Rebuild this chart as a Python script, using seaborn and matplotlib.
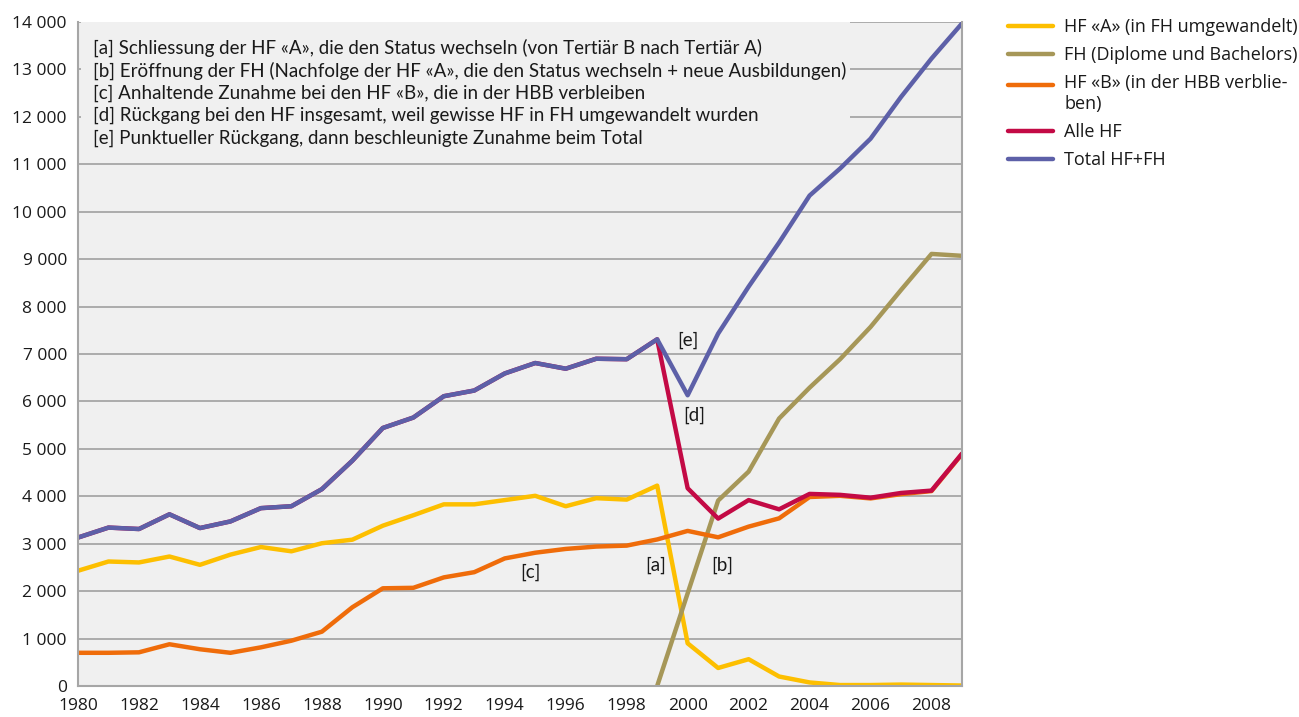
import numpy as np
import pandas as pd
import matplotlib
matplotlib.use("Agg")
import matplotlib.pyplot as plt
from matplotlib.patches import Rectangle
from matplotlib.lines import Line2D
from matplotlib.legend_handler import HandlerLine2D
from matplotlib.ticker import FuncFormatter, MultipleLocator
import seaborn as sns

years = list(range(1980, 2010))

hf_a = [2430, 2625, 2605, 2730, 2555, 2770, 2930, 2840, 3010, 3085,
        3380, 3600, 3830, 3830, 3920, 4010, 3790, 3960, 3930, 4225,
        900, 380, 565, 200, 75, 20, 20, 30, 20, 10]
hf_b = [700, 700, 710, 880, 775, 700, 815, 955, 1145, 1660,
        2060, 2070, 2290, 2400, 2690, 2810, 2890, 2940, 2960, 3090,
        3270, 3135, 3360, 3535, 3985, 4010, 3955, 4045, 4110, 4890]
fh = [np.nan] * 19 + [0, 1955, 3910, 4520, 5640, 6290, 6890, 7570, 8350, 9110, 9070]
alle_hf = [3130, 3340, 3310, 3620, 3330, 3470, 3750, 3790, 4150, 4750,
           5440, 5660, 6110, 6230, 6590, 6810, 6690, 6900, 6890, 7310,
           4170, 3530, 3920, 3725, 4050, 4030, 3970, 4070, 4120, 4900]
total = [3130, 3340, 3310, 3620, 3330, 3470, 3750, 3790, 4150, 4750,
         5440, 5660, 6110, 6230, 6590, 6810, 6690, 6900, 6890, 7310,
         6130, 7430, 8420, 9350, 10340, 10910, 11540, 12420, 13230, 13970]

series_names = ["HF «A» (in FH umgewandelt)", "FH (Diplome und Bachelors)",
                "HF «B» (in der HBB verblie-\nben)", "Alle HF", "Total HF+FH"]
colors = ["#FDBF00", "#A69758", "#EF6C0A", "#C30A45", "#5D60A8"]

notes = [
    "[a] Schliessung der HF «A», die den Status wechseln (von Tertiär B nach Tertiär A)",
    "[b] Eröffnung der FH (Nachfolge der HF «A», die den Status wechseln + neue Ausbildungen)",
    "[c] Anhaltende Zunahme bei den HF «B», die in der HBB verbleiben",
    "[d] Rückgang bei den HF insgesamt, weil gewisse HF in FH umgewandelt wurden",
    "[e] Punktueller Rückgang, dann beschleunigte Zunahme beim Total",
]
marks = ["[a]", "[b]", "[c]", "[d]", "[e]"]
mark_x = [1998.95, 2001.15, 1994.85, 2000.2, 2000.0]
mark_y = [2550, 2550, 2400, 5700, 7290]

rows = []
for name, vals in zip(series_names, [hf_a, fh, hf_b, alle_hf, total]):
    for yr, v in zip(years, vals):
        rows.append({"Jahr": yr, "Wert": v, "Serie": name})
df = pd.DataFrame(rows).dropna()

sns.set_theme(style="white")
plt.rcParams['font.family'] = ['Open Sans', 'DejaVu Sans']


class ShiftHandler(HandlerLine2D):
    def __init__(self, dy, **kw):
        super().__init__(**kw)
        self.dy = dy

    def create_artists(self, legend, orig_handle, xdescent, ydescent, width, height,
                       fontsize, trans):
        arts = super().create_artists(legend, orig_handle, xdescent, ydescent, width,
                                      height, fontsize, trans)
        for a in arts:
            if isinstance(a, Line2D):
                a.set_ydata(np.asarray(a.get_ydata(), dtype=float) + self.dy)
        return arts


fig = plt.figure(figsize=(12.99, 7.17), dpi=100)
ax = fig.add_axes([78/1299, 1 - 686/717, (962-78)/1299, (686-22)/717])
ax.set_facecolor("#F0F0F0")

sns.lineplot(data=df, x="Jahr", y="Wert", hue="Serie", hue_order=series_names,
             palette=colors, linewidth=3.2, ax=ax, legend=True)
handles, labels = ax.get_legend_handles_labels()
ax.get_legend().remove()

ax.set_xlim(1980, 2009)
ax.set_ylim(0, 14000)
ax.xaxis.set_major_locator(MultipleLocator(2))
ax.yaxis.set_major_locator(MultipleLocator(1000))
ax.yaxis.set_major_formatter(FuncFormatter(lambda v, p: f"{int(v):,}".replace(",", " ")))
ax.set_xlabel("")
ax.set_ylabel("")
ax.grid(axis="y", color="#A6A6A6", linewidth=1.3)
ax.set_axisbelow(True)
for s in ["left", "bottom", "right"]:
    ax.spines[s].set_color("#A6A6A6")
    ax.spines[s].set_linewidth(1.5)
ax.spines["top"].set_visible(False)
ax.tick_params(axis="both", labelsize=12.5, colors="#A6A6A6", labelcolor="#1A1A1A")
ax.tick_params(axis="x", length=0, pad=9)
ax.tick_params(axis="y", length=4, direction="out", width=1.2, pad=4)

box = Rectangle((0.003, 0.805), 0.87, 0.195, transform=ax.transAxes,
                facecolor="#F0F0F0", edgecolor="none", zorder=1)
ax.add_patch(box)
note_font = ['Lato', 'DejaVu Sans']
for i, t in enumerate(notes):
    ax.text((93-78)/884, 1 - (48 - 22 + i*22.5)/664, t, transform=ax.transAxes,
            fontsize=13.5, family=note_font,
            color="#1A1A1A", va="center", ha="left", zorder=2)

for m, x, y in zip(marks, mark_x, mark_y):
    ax.text(x, y, m, fontsize=13.5, family=note_font,
            color="#1A1A1A", ha="center", va="center", zorder=5)

leg = fig.legend(handles, labels, loc="upper left", bbox_to_anchor=(1001/1299, 1 - 11/717),
                 frameon=False, fontsize=13, handlelength=2.5, handletextpad=0.6,
                 labelspacing=0.56, borderaxespad=0,
                 handler_map={handles[2]: ShiftHandler(6.8)})
for h in leg.get_lines():
    h.set_linewidth(3.2)
for t in leg.get_texts():
    t.set_color("#1A1A1A")

fig.savefig("out.png", dpi=100)
